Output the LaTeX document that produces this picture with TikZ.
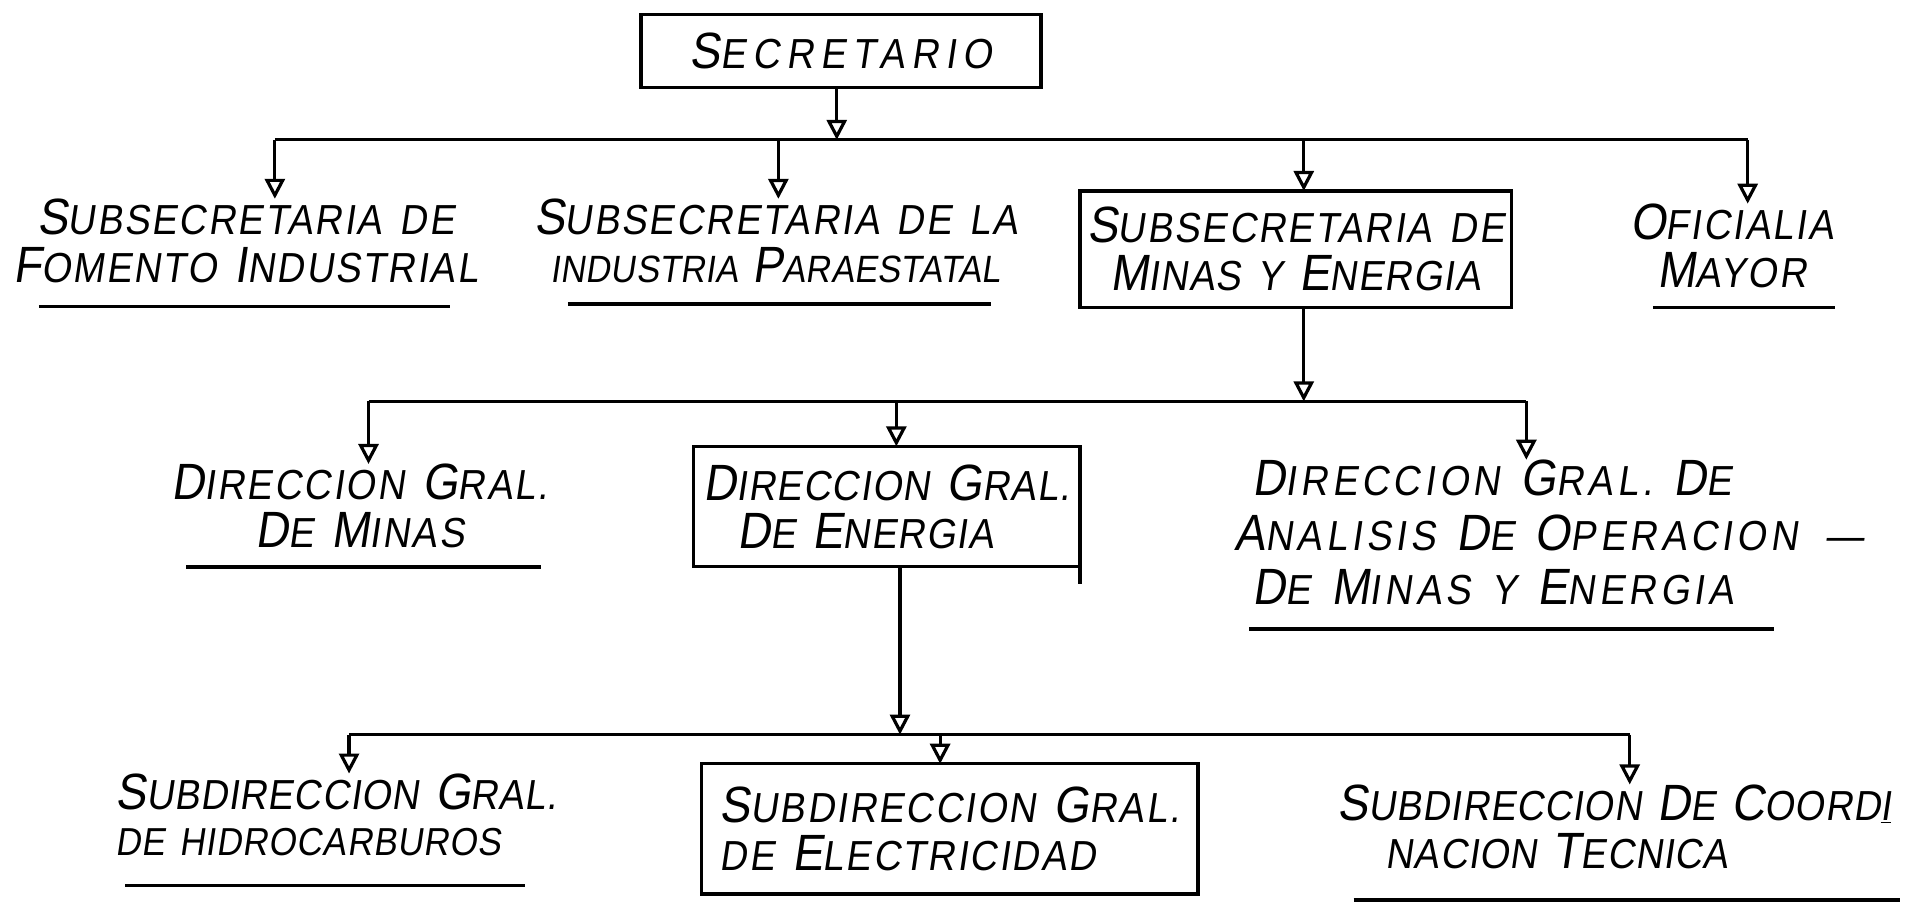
\documentclass[tikz,border=0pt]{standalone}
\usepackage{fontspec}
\newfontfamily\hand{Liberation Sans}[FakeStretch=0.9,FakeSlant=0.15,LetterSpace=5,WordSpace=1.4]
\usetikzlibrary{arrows.meta,calc}
\newcommand\Ini[1]{{\fontsize{25.5}{29}\selectfont #1}}
\begin{document}
\begin{tikzpicture}[x=0.6081pt,y=-0.6081pt,
  every node/.style={font=\hand\fontsize{21}{24}\selectfont, inner sep=0pt, outer sep=0pt},
  lbl/.style={align=center},
  box/.style={draw, line width=1.6pt, align=center},
  conn/.style={line width=1.6pt},
  arr/.style={line width=1.6pt, -{Triangle[open,length=10pt,width=10pt,line width=1.6pt]}},
  uline/.style={line width=1.8pt}]
\useasboundingbox[fill=white] (0,0) rectangle (1568,744);

% ---- level 0
\node[box, minimum width=200pt, minimum height=36.5pt] (sec) at (691.5,42) {\addfontfeature{LetterSpace=16}\Ini{S}ECRETARIO};

% ---- level 1
\node[lbl] (fom) at (202,198) {\Ini{S}UBSECRETARIA DE\\\Ini{F}OMENTO \Ini{I}NDUSTRIAL};
\node[lbl] (ind) at (638,198) {\Ini{S}UBSECRETARIA DE LA\\{\addfontfeature{LetterSpace=1}\fontsize{19}{24}\selectfont INDUSTRIA \Ini{P}ARAESTATAL}};
\node[box, minimum width=215.9pt, minimum height=58.4pt] (mye) at (1065.5,205) {\Ini{S}UBSECRETARIA DE\\{\addfontfeature{LetterSpace=3}\Ini{M}INAS Y \Ini{E}NERGIA}};
\node[lbl] (ofi) at (1424,202) {\Ini{O}FICIALIA\\\Ini{M}AYOR};

% ---- level 2
\node[lbl] (dmin) at (296,416) {\Ini{D}IRECCION \Ini{G}RAL.\\\Ini{D}E \Ini{M}INAS};
\node[box, align=left, minimum width=193.4pt, minimum height=60.2pt, font=\hand\addfontfeature{LetterSpace=3}\fontsize{21}{24}\selectfont] (den) at (729,416.5) {\Ini{D}IRECCION \Ini{G}RAL.\\\hspace*{17pt}\Ini{D}E \Ini{E}NERGIA};
\node[align=left, anchor=north west, font=\hand\addfontfeature{LetterSpace=10}\fontsize{21}{27.4}\selectfont] (dana) at (1030,378) {\Ini{D}IRECCION \Ini{G}RAL. \Ini{D}E\\\hspace*{-9pt}\Ini{A}NALISIS \Ini{D}E \Ini{O}PERACION\hspace{14pt}—\\\Ini{D}E \Ini{M}INAS Y \Ini{E}NERGIA};

% ---- level 3
\node[align=left, anchor=north west, font=\hand\addfontfeature{LetterSpace=2}\fontsize{21}{23}\selectfont] (shid) at (95,636) {\Ini{S}UBDIRECCION \Ini{G}RAL.\\{\fontsize{19.5}{23}\selectfont DE HIDROCARBUROS}};
\node[box, align=left, minimum width=248.1pt, minimum height=65.1pt] (sele) at (781,681.5) {\Ini{S}UBDIRECCION \Ini{G}RAL.\\DE \Ini{E}LECTRICIDAD};
\node[align=left, anchor=north west, font=\hand\addfontfeature{LetterSpace=2}\fontsize{21}{24}\selectfont] (scoo) at (1100,645) {\Ini{S}UBDIRECCION \Ini{D}E \Ini{C}OORD\underline{I}\\\hspace*{24pt}NACION \Ini{T}ECNICA};

% ---- bus coordinates
\coordinate (j1) at (688,115);
\coordinate (j11) at (226,115);
\coordinate (j12) at (640,115);
\coordinate (j13) at (1072,115);
\coordinate (j14) at (1437,115);
\coordinate (j2) at (1072,330);
\coordinate (j21) at (303,330);
\coordinate (j22) at (737,330);
\coordinate (j23) at (1255,330);
\coordinate (j3) at (740,604);
\coordinate (j31) at (287,604);
\coordinate (j32) at (773,604);
\coordinate (j33) at (1340,604);

% ---- connectors level 0 -> 1
\draw[arr] (sec.south -| j1) -- (j1);
\draw[conn] (j11) -- (j14);
\draw[arr] (j11) -- (j11 |- fom.north);
\draw[arr] (j12) -- (j12 |- ind.north);
\draw[arr] (j13) -- (j13 |- mye.north);
\draw[arr] (j14) -- (j14 |- ofi.north);

% ---- connectors level 1 -> 2
\draw[arr] (mye.south -| j2) -- (j2);
\draw[conn] (j21) -- (j23);
\draw[arr] (j21) -- (j21 |- dmin.north);
\draw[arr] (j22) -- (j22 |- den.north);
\draw[arr] (j23) -- (j23 |- dana.north);

% ---- connectors level 2 -> 3
\draw[arr] (den.south -| j3) -- (j3);
\draw[conn] (j31) -- (j33);
\draw[arr] (j31) -- (j31 |- shid.north);
\draw[arr] (j32) -- (j32 |- sele.north);
\draw[arr] (j33) -- (j33 |- scoo.north);

% small overhang of the energy box edge
\draw[conn] (den.south east) -- ++(0,14);

% ---- underlines
\draw[uline] (32,252) -- (370,252);
\draw[uline] (467,250) -- (815,250);
\draw[uline] (1359,253) -- (1509,253);
\draw[uline] (153,466) -- (445,466);
\draw[uline] (1027,517) -- (1459,517);
\draw[uline] (103,728) -- (432,728);
\draw[uline] (1113,740) -- (1562,740);
\end{tikzpicture}
\end{document}
